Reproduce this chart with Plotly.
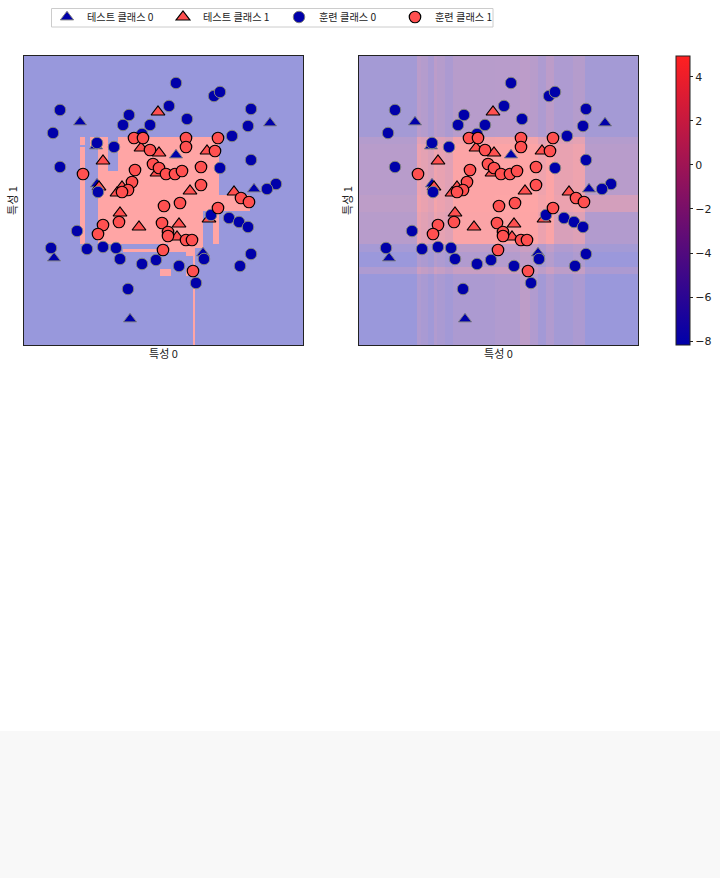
import plotly.graph_objects as go

FONT = "Noto Sans CJK KR"
BLUE = "#0000aa"
RED = "#ff5050"

# Feature values
test0_x = [80, 270, 96, 176, 97, 254, 54, 203, 130]
test0_y = [122, 123, 146, 155, 184, 189, 258, 253, 319]
test1_x = [158, 141, 159, 207, 103, 157, 99, 122, 117, 190, 234, 120, 209, 139, 179, 177]
test1_y = [112, 148, 153, 151, 161, 173, 187, 187, 193, 191, 192, 213, 219, 227, 224, 237]
train0_x = [176, 214, 220, 169, 60, 129, 251, 187, 123, 150, 248, 53, 142, 232, 97, 114, 60, 251, 220, 276,
            267, 98, 211, 229, 239, 248, 77, 51, 87, 103, 116, 120, 142, 156, 179, 204, 251, 240, 196, 128]
train0_y = [83, 96, 92, 106, 110, 115, 109, 119, 125, 125, 126, 133, 134, 136, 143, 147, 167, 160, 168, 184,
            189, 192, 215, 218, 222, 227, 231, 248, 249, 247, 248, 259, 264, 260, 266, 259, 254, 266, 283, 289]
train1_x = [134, 143, 186, 186, 218, 215, 150, 153, 159, 135, 83, 166, 175, 182, 201, 201, 132, 128, 122,
            241, 249, 164, 180, 218, 103, 98, 119, 162, 168, 168, 186, 192, 163, 193]
train1_y = [138, 138, 138, 147, 138, 151, 150, 164, 168, 170, 174, 174, 174, 171, 167, 185, 182, 190, 192,
            198, 202, 206, 203, 208, 225, 234, 222, 223, 232, 236, 240, 240, 250, 271]

legend_names = ["테스트 클래스 0", "테스트 클래스 1", "훈련 클래스 0", "훈련 클래스 1"]
xlabel = "특성 0"
ylabel = "특성 1"
cbar_ticks = [-8, -6, -4, -2, 0, 2, 4]
x_range = [24, 303]
y_range = [345, 56]

# Left panel: regions predicted as class 1 (x0, x1, y0, y1)
class1_regions = [
    (80, 85, 137, 145), (80, 85, 147, 244), (90, 108, 137, 146), (98, 108, 146, 244),
    (108, 118, 171, 244), (118, 203, 137, 244), (203, 219, 137, 211), (219, 250, 195, 211),
    (213, 219, 211, 244), (123, 168, 249, 252), (168, 195, 244, 252), (195, 203, 244, 248),
    (186, 195, 252, 256), (193, 195, 256, 345), (160, 171, 269, 276), (186, 193, 269, 276),
]

# Right panel: decision values on bands
band_x = [24, 82, 86, 93, 99, 102, 110, 118, 160, 185, 195, 203, 211, 219, 238, 250, 303]
band_y = [56, 137, 144, 195, 212, 244, 252, 267, 274, 345]
decision = [
    [-6.6, -3.8, -4.6, -5.8, -3.6, -4.4, -5.6, -4.2, -4.0, -3.6, -4.0, -5.4, -3.6, -5.4, -4.4, -6.6],
    [-4.6, 1.0, 0.0, -1.0, 1.5, 0.6, -0.5, 3.4, 3.6, 4.4, 3.6, 1.0, 3.6, 0.8, 1.6, -4.6],
    [-4.0, 2.6, 1.6, 0.4, 3.0, 2.0, 1.0, 4.6, 4.7, 4.9, 4.7, 3.0, 4.6, 2.0, 2.8, -4.0],
    [-3.4, 3.2, 2.2, 1.0, 3.6, 2.6, 1.6, 4.7, 4.8, 4.95, 4.8, 3.6, 4.7, 2.6, 3.4, -0.6],
    [-4.2, 2.2, 1.2, 0.2, 2.8, 1.8, 0.8, 4.4, 4.6, 4.9, 4.6, 2.6, 4.4, 0.0, 0.8, -4.8],
    [-6.4, -3.4, -4.2, -5.2, -3.2, -4.0, -5.0, -3.4, -3.0, -1.6, -3.0, -4.8, -3.0, -5.0, -4.0, -6.6],
    [-7.8, -4.8, -5.6, -6.6, -4.4, -5.4, -6.4, -5.0, -4.6, -3.4, -4.6, -6.2, -4.6, -6.2, -5.2, -7.8],
    [-5.4, -1.6, -2.8, -3.8, -1.4, -2.4, -3.6, -2.0, -1.6, -0.4, -1.6, -3.4, -1.6, -3.4, -2.4, -5.6],
    [-7.9, -5.2, -6.0, -7.0, -5.0, -5.8, -6.8, -5.6, -5.0, -3.4, -5.0, -6.8, -5.0, -6.6, -5.6, -7.9],
]
zmin, zmax = -8.18, 4.95

scale = [[0, BLUE], [1, "#ff2020"]]

# Left grid
xe = sorted({24, 303, *[r[0] for r in class1_regions], *[r[1] for r in class1_regions]})
ye = sorted({56, 345, *[r[2] for r in class1_regions], *[r[3] for r in class1_regions]})
grid = [[0] * (len(xe) - 1) for _ in range(len(ye) - 1)]
for x0, x1, y0, y1 in class1_regions:
    for j in range(len(ye) - 1):
        for i in range(len(xe) - 1):
            if x0 <= xe[i] and xe[i + 1] <= x1 and y0 <= ye[j] and ye[j + 1] <= y1:
                grid[j][i] = 1

fig = go.Figure()
fig.add_trace(go.Heatmap(x=xe, y=ye, z=grid, zmin=0, zmax=1, colorscale=scale, opacity=0.4,
                         showscale=False, hoverinfo="skip", xaxis="x", yaxis="y"))
fig.add_trace(go.Heatmap(x=band_x, y=band_y, z=decision, zmin=zmin, zmax=zmax, colorscale=scale, opacity=0.4,
                         hoverinfo="skip", xaxis="x2", yaxis="y2",
                         colorbar=dict(x=676 / 720, xanchor="left", xpad=0, y=1 - 56 / 878, yanchor="top", ypad=0,
                                       lenmode="pixels", len=289, thicknessmode="pixels", thickness=14,
                                       tickvals=cbar_ticks, ticks="outside", ticklen=3, tickwidth=1,
                                       tickcolor="#222", outlinecolor="#222", outlinewidth=1, borderwidth=0,
                                       tickfont=dict(family="DejaVu Sans", size=11, color="#222"))))

series = [
    (test0_x, test0_y, "triangle-up", 11.5, BLUE, "#808080", 1),
    (test1_x, test1_y, "triangle-up", 12, RED, "#000000", 1.2),
    (train0_x, train0_y, "circle", 11.5, BLUE, "#808080", 1),
    (train1_x, train1_y, "circle", 11.5, RED, "#000000", 1.2),
]
for panel, (xa, ya) in enumerate([("x", "y"), ("x2", "y2")]):
    for name, (sx, sy, sym, size, col, edge, lw) in zip(legend_names, series):
        fig.add_trace(go.Scatter(x=sx, y=sy, mode="markers", name=name, legendgroup=name,
                                 showlegend=panel == 0, xaxis=xa, yaxis=ya,
                                 marker=dict(symbol=sym, size=size, color=col, line=dict(color=edge, width=lw))))

axis_common = dict(showgrid=False, zeroline=False, showticklabels=False, ticks="", showline=True,
                   linecolor="#222", linewidth=1, mirror=True)
title_font = dict(family=FONT, size=11, color="#222")
fig.update_layout(
    width=720, height=878, autosize=False,
    margin=dict(l=0, r=0, t=0, b=0),
    paper_bgcolor="white", plot_bgcolor="white",
    font=dict(family=FONT, size=10, color="#222"),
    xaxis=dict(domain=[24 / 720, 303 / 720], range=x_range, title=dict(text=xlabel, font=title_font, standoff=5), **axis_common),
    yaxis=dict(domain=[1 - 345 / 878, 1 - 56 / 878], range=y_range, title=dict(text=ylabel, font=title_font, standoff=3), **axis_common),
    xaxis2=dict(domain=[359 / 720, 638 / 720], range=x_range, title=dict(text=xlabel, font=title_font, standoff=5), **axis_common),
    yaxis2=dict(domain=[1 - 345 / 878, 1 - 56 / 878], range=y_range, anchor="x2", title=dict(text=ylabel, font=title_font, standoff=3), **axis_common),
    legend=dict(orientation="h", x=47 / 720, xanchor="left", y=1 - 2.5 / 878, yanchor="top",
                borderwidth=0, bgcolor="rgba(0,0,0,0)", entrywidth=71, entrywidthmode="pixels",
                itemsizing="trace", font=dict(family=FONT, size=10.2, color="#222"), traceorder="normal"),
    shapes=[dict(type="rect", xref="paper", yref="paper", x0=0, x1=1, y0=0, y1=(878 - 731) / 878,
                 fillcolor="#f8f8f8", line=dict(width=0), layer="below"),
            dict(type="rect", xref="paper", yref="paper", x0=51.5 / 720, x1=493 / 720,
                 y0=1 - 27 / 878, y1=1 - 8.5 / 878, fillcolor="white",
                 line=dict(width=1, color="#cccccc"), layer="below")],
)
fig.write_html("out.html", post_script="document.body.style.margin='0';", config={"displayModeBar": False})
